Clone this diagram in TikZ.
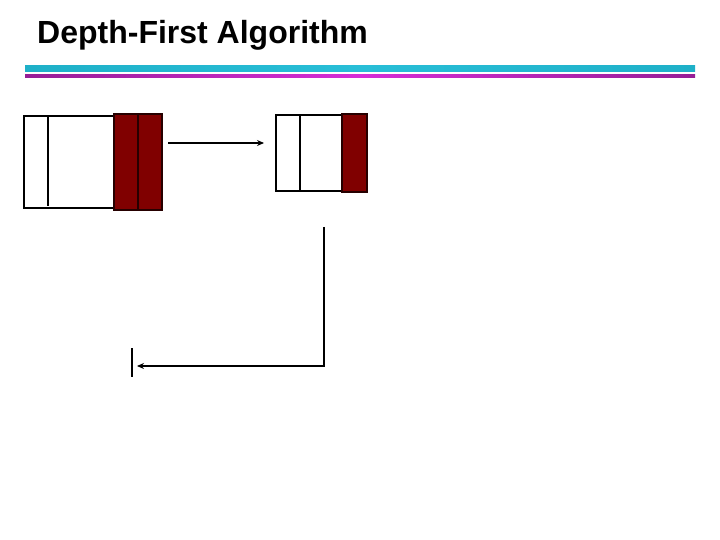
\documentclass[tikz,border=0pt]{standalone}
\usepackage{fontspec}
\setmainfont{Liberation Sans}
\usetikzlibrary{arrows.meta}
\definecolor{darkred}{RGB}{128,0,0}
\definecolor{cyanbar}{RGB}{30,176,200}
\definecolor{cyanmid}{RGB}{40,190,215}
\definecolor{purplebar}{RGB}{150,30,150}
\definecolor{magmid}{RGB}{215,45,215}
\begin{document}
\begin{tikzpicture}[x=1pt,y=-1pt,
  redcell/.style={draw=black!70!darkred,fill=darkred,line width=1.2pt,inner sep=0pt,outer sep=0pt},
  conn/.style={line width=2pt,-{Stealth[length=7pt,width=6pt]}},
  plain/.style={line width=1.5pt}]
\useasboundingbox (0,0) rectangle (720,540);
% title
\node[anchor=base west,inner sep=0pt,font=\fontsize{32}{36}\selectfont\bfseries] (title) at (37,44) {Depth-First Algorithm};
% bars
\shade[left color=cyanbar,right color=cyanbar,middle color=cyanmid] (25,66) rectangle (695,72);
\shade[left color=purplebar,right color=purplebar,middle color=magmid] (25,75) rectangle (695,78);
% box 1
\draw[plain] (114,116) -- (24,116) -- (24,208) -- (114,208);
\node[redcell,minimum width=24pt,minimum height=96pt] (r1a) at (126,162) {};
\node[redcell,minimum width=24pt,minimum height=96pt] (r1b) at (150,162) {};
\draw[plain] (48,116) -- (48,206);
\coordinate (a1s) at (168,143);
\coordinate (a1e) at (264,143);
\draw[conn] (a1s) -- (a1e);
% box 2
\draw[plain] (342,115) -- (276,115) -- (276,191) -- (342,191);
\draw[plain] (300,115) -- (300,191);
\node[redcell,minimum width=25pt,minimum height=78pt] (r2) at (354.5,153) {};
% L connector
\coordinate (ls) at (324,227);
\coordinate (lc) at (324,366);
\coordinate (le) at (137,366);
\draw[conn] (ls) -- (lc) -- (le);
\coordinate (vt) at (132,348);
\coordinate (vb) at (132,377);
\draw[plain] (vt) -- (vb);
\end{tikzpicture}
\end{document}
